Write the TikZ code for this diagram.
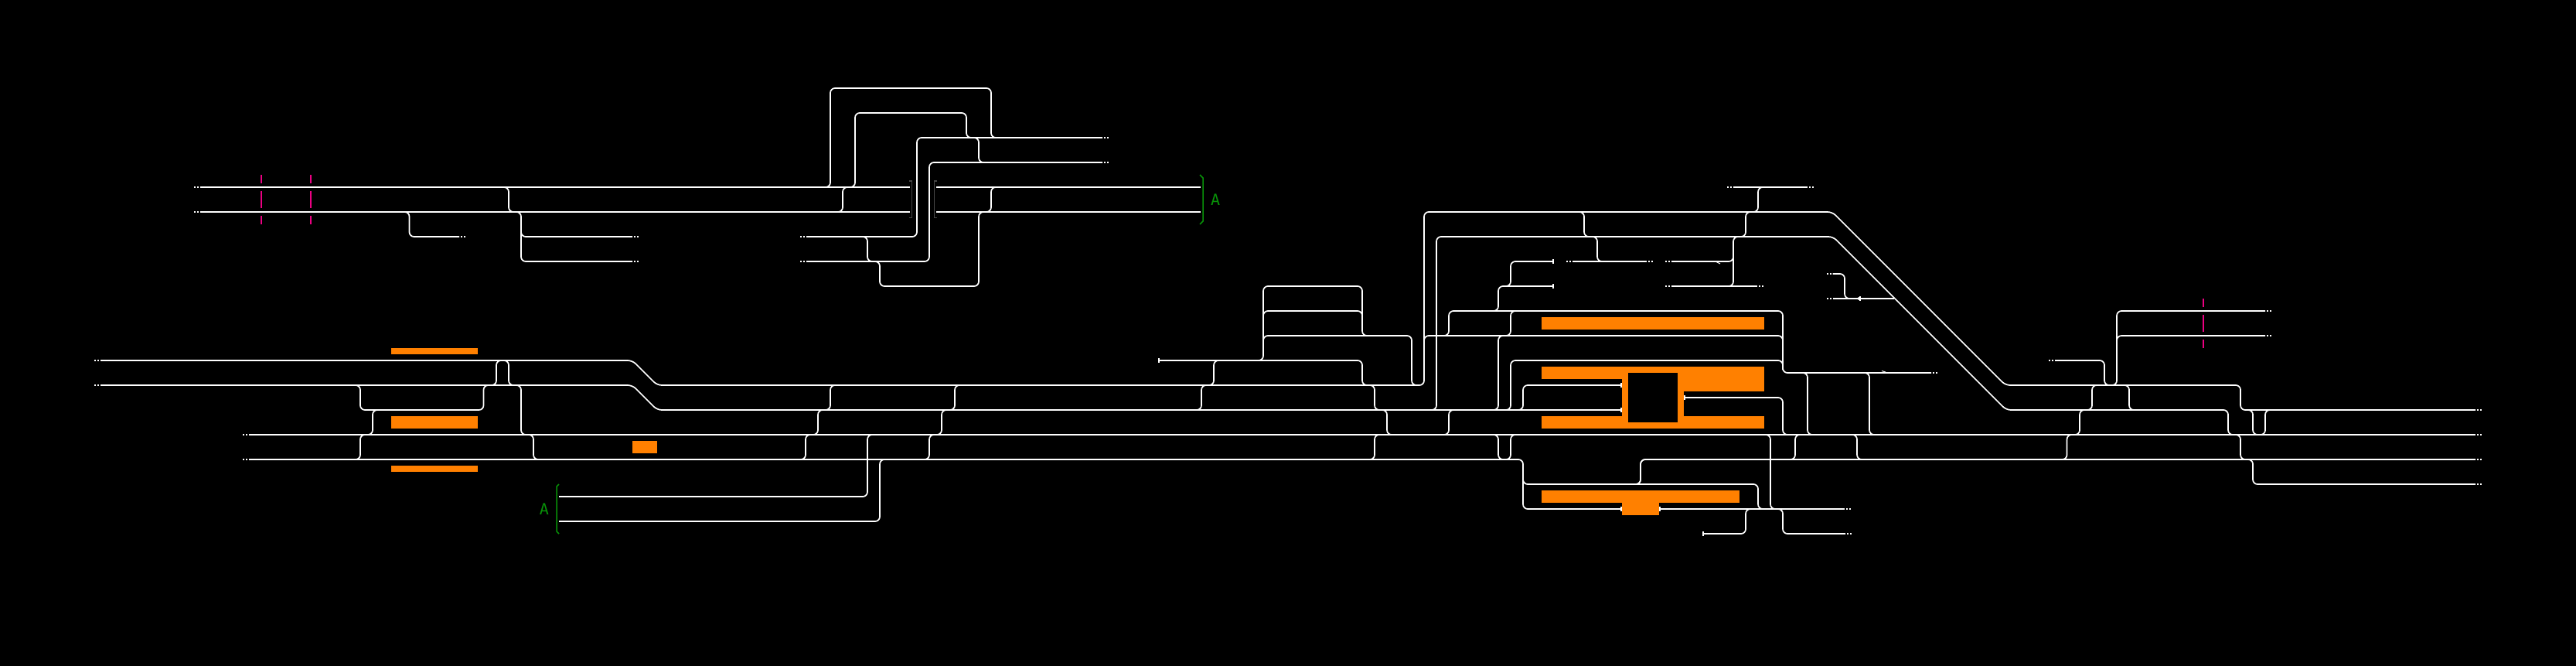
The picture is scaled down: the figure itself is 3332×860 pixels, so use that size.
\documentclass[tikz,border=0pt]{standalone}
\usepackage{fontspec}
\newfontfamily\labfont{DejaVu Sans Mono}
\definecolor{platform}{RGB}{255,128,0}
\definecolor{signalgreen}{RGB}{8,145,8}
\definecolor{marker}{RGB}{235,0,130}
\definecolor{bufgray}{RGB}{70,70,70}
\tikzset{
  track/.style={draw=white,line width=1.7pt,rounded corners=6pt},
  straight/.style={draw=white,line width=1.9pt},
  plat/.style={fill=platform,draw=none},
  barline/.style={draw=white,line width=1.8pt},
  dotbox/.style={fill=white,draw=none},
  markline/.style={draw=marker,line width=1.8pt},
  bufstop/.style={draw=bufgray,line width=1.5pt},
  grn/.style={draw=signalgreen,line width=1.5pt},
  lab/.style={text=signalgreen,inner sep=0pt,font=\labfont\fontsize{20}{20}\selectfont},
}
% switch: vertical at x, from y1 to y2, with short horizontal stubs (sign = side)
\newcommand\swx[5]{\draw[track] ({#1+(#3)*8},#2) -- (#1,#2) -- (#1,#4) -- ({#1+(#5)*8},#4);}
\newcommand\hlx[3]{\draw[straight] (#1,#3) -- (#2,#3);}
\newcommand\stubL[2]{\fill[dotbox] ({#1-8},{#2-1}) rectangle ({#1-6},{#2+1}); \fill[dotbox] ({#1-4},{#2-1}) rectangle ({#1-2},{#2+1});}
\newcommand\stubR[2]{\fill[dotbox] ({#1+2},{#2-1}) rectangle ({#1+4},{#2+1}); \fill[dotbox] ({#1+6},{#2-1}) rectangle ({#1+8},{#2+1});}
\newcommand\tbarx[2]{\draw[barline] (#1,{#2-3}) -- (#1,{#2+3});}
\newcommand\markx[2]{\draw[markline] (#1,{#2-16}) -- (#1,{#2-5}) (#1,{#2+5}) -- (#1,{#2+27}) (#1,{#2+37}) -- (#1,{#2+48});}
\begin{document}
\begin{tikzpicture}[x=1pt,y=-1pt]
\useasboundingbox (0,0) rectangle (3332,860);
\fill[black] (-6,-6) rectangle (3338,866);
% platforms
\fill[plat] (506,450) rectangle (618,458);
\fill[plat] (506,538) rectangle (618,554);
\fill[plat] (506,602) rectangle (618,610);
\fill[plat] (818,570) rectangle (850,586);
\fill[plat] (1994,410) rectangle (2282,426);
\fill[plat] (1994,474) rectangle (2282,490);
\fill[plat] (2178,474) rectangle (2282,506);
\fill[plat] (1994,538) rectangle (2282,554);
\fill[plat] (2098,474) rectangle (2178,554);
\fill[black] (2106,482) rectangle (2170,546);
\fill[plat] (1994,634) rectangle (2250,650);
\fill[plat] (2098,650) rectangle (2146,666);
% main through lines
\draw[track] (130,466) -- (818,466) -- (850,498) -- (1842,498) -- (1842,274) -- (2370,274) -- (2594,498) -- (2898,498) -- (2898,530) -- (3202,530);
\draw[track] (130,498) -- (818,498) -- (850,530) -- (2097,530);
\draw[track] (1850,530) -- (1858,530) -- (1858,306) -- (2371,306) -- (2595,530) -- (2882,530) -- (2882,562) -- (2892,562);
\hlx{322}{3202}{562}
\draw[track] (322,594) -- (1970,594) -- (1970,658) -- (2097,658);
\draw[track] (2114,626) -- (2122,626) -- (2122,594) -- (3202,594);
\draw[track] (1970,615) -- (1970,626) -- (2274,626) -- (2274,658) -- (2282,658);
\hlx{2147}{2386}{658}
\stubL{130}{466} \stubL{130}{498} \stubL{322}{562} \stubL{322}{594}
\stubR{3202}{530} \stubR{3202}{562} \stubR{3202}{594}
% left group
\draw[track] (458,498) -- (466,498) -- (466,530) -- (625.5,530) -- (625.5,498) -- (633,498);
\swx{482}{530}{1}{562}{-1}
\swx{466}{562}{1}{594}{-1}
\draw[track] (635,498) -- (642,498) -- (642,466) -- (658,466) -- (658,498) -- (665,498);
\swx{674}{498}{-1}{562}{1}
\swx{690}{562}{-1}{594}{1}
% A-lines
\draw[track] (723,642) -- (1122,642) -- (1122,562) -- (1130,562);
\draw[track] (723,674) -- (1138,674) -- (1138,594) -- (1146,594);
\draw[grn] (723,626) -- (720,629) -- (720,687) -- (723,690);
\node[lab] (aleft) at (704,658) {A};
% ladder on main lines
\foreach \xx in {1074,1235,1554}{\swx{\xx}{498}{1}{530}{-1}}
\foreach \xx in {1058,1218,1874}{\swx{\xx}{530}{1}{562}{-1}}
\foreach \xx in {1042,1202}{\swx{\xx}{562}{1}{594}{-1}}
\swx{1778}{498}{-1}{530}{1}
\swx{1794}{530}{-1}{562}{1}
\swx{1778}{562}{1}{594}{-1}
% top left group
\hlx{258.6}{1177}{242} \hlx{258.6}{1177}{274}
\hlx{1211}{1553}{242} \hlx{1211}{1553}{274}
\stubL{258.6}{242} \stubL{258.6}{274}
\markx{338}{242} \markx{402}{242}
\swx{658}{242}{-1}{274}{1}
\draw[track] (521,274) -- (529.5,274) -- (529.5,306) -- (594,306);
\stubR{594}{306}
\draw[track] (666,274) -- (674,274) -- (674,338) -- (818,338);
\draw[track] (674,295) -- (674,306) -- (818,306);
\stubR{818}{306} \stubR{818}{338}
% upper loop group
\draw[track] (1066,242) -- (1074,242) -- (1074,114) -- (1282,114) -- (1282,178) -- (1290,178);
\draw[track] (1098,242) -- (1106,242) -- (1106,146) -- (1250,146) -- (1250,178) -- (1258,178);
\draw[track] (1043,306) -- (1186,306) -- (1186,178) -- (1426,178);
\draw[track] (1043,338) -- (1202,338) -- (1202,210) -- (1426,210);
\stubL{1043}{306} \stubL{1043}{338} \stubR{1426}{178} \stubR{1426}{210}
\swx{1266}{178}{-1}{210}{1}
\draw[track] (1130,338) -- (1138,338) -- (1138,370) -- (1266,370) -- (1266,274) -- (1274,274);
\swx{1090}{242}{1}{274}{-1}
\swx{1122}{306}{-1}{338}{1}
\swx{1282}{242}{1}{274}{-1}
\draw[bufstop] (1176,234) -- (1179.5,234) -- (1179.5,281.5) -- (1176,281.5);
\draw[bufstop] (1212,234) -- (1208.5,234) -- (1208.5,281.5) -- (1212,281.5);
\draw[grn] (1552,226) -- (1556,230) -- (1556,286) -- (1552,290);
\node[lab] (aright) at (1572,258.5) {A};
% yard above the middle
\hlx{1499}{1756}{466} \tbarx{1499}{466}
\draw[track] (1755,466) -- (1762,466) -- (1762,498) -- (1770,498);
\swx{1570}{466}{1}{498}{-1}
\draw[track] (1627,466) -- (1634,466) -- (1634,370) -- (1762,370) -- (1762,434) -- (1770,434);
\draw[track] (1634,445) -- (1634,434) -- (1826,434) -- (1826,498) -- (1834,498);
\draw[track] (1634,412) -- (1634,402) -- (1762,402) -- (1762,414);
% station throat
\draw[track] (1842,445) -- (1842,434) -- (2306,434) -- (2306,446);
\draw[track] (1866,434) -- (1874,434) -- (1874,402) -- (2306,402) -- (2306,482) -- (2498,482);
\stubR{2498}{482}
\draw[track] (1946,530) -- (1954,530) -- (1954,466) -- (2306,466) -- (2306,478);
\draw[track] (1930,530) -- (1938,530) -- (1938,434) -- (1946,434);
\draw[track] (1962,530) -- (1970,530) -- (1970,498) -- (2097,498);
\tbarx{2097}{498} \tbarx{2097}{530} \tbarx{2097}{658}
\swx{1954}{402}{1}{434}{-1}
\draw[track] (1930,402) -- (1938,402) -- (1938,370) -- (2009,370);
\draw[track] (1946,370) -- (1954,370) -- (1954,338) -- (2009,338);
\tbarx{2009}{338} \tbarx{2009}{370}
\hlx{2034}{2130}{338} \stubL{2034}{338} \stubR{2130}{338}
\swx{2066}{306}{-1}{338}{1}
\draw[track] (2162,338) -- (2242,338) -- (2242,325);
\hlx{2162}{2273}{370} \stubL{2162}{338} \stubL{2162}{370} \stubR{2273}{370}
\draw[track] (2234,370) -- (2242,370) -- (2242,306) -- (2250,306);
\draw[straight,line width=1pt] (2220,338.5) -- (2225,341);
\swx{2258}{274}{1}{306}{-1}
\swx{2274}{242}{1}{274}{-1}
\swx{2049}{274}{-1}{306}{1}
\hlx{2242}{2338}{242} \stubL{2242}{242} \stubR{2338}{242}
\draw[track] (2179,514) -- (2306,514) -- (2306,562) -- (2314,562);
\tbarx{2179}{514}
\swx{2338}{482}{-1}{562}{1}
\swx{2418}{482}{-1}{562}{1}
\draw[straight,line width=1pt] (2434,479.5) -- (2439,481);
\swx{2290}{562}{-1}{658}{1}
\swx{2322}{562}{1}{594}{-1}
\swx{2402}{562}{-1}{594}{1}
\tbarx{2147}{658} \stubR{2386}{658}
\swx{2122}{594}{1}{626}{-1}
\draw[track] (1930,562) -- (1938,562) -- (1938,594) -- (1954,594) -- (1954,562) -- (1962,562);
\draw[track] (2203,690) -- (2258,690) -- (2258,658) -- (2266,658);
\tbarx{2203}{690}
\draw[track] (2298,658) -- (2306,658) -- (2306,690) -- (2387,690);
\stubR{2387}{690}
% isolated branch with arrow
\draw[track] (2370.5,354) -- (2386,354) -- (2386,386) -- (2396,386);
\hlx{2370.5}{2450}{386}
\stubL{2370.5}{354} \stubL{2370.5}{386}
\fill[white] (2401,386) -- (2405.5,383.5) -- (2405.5,388.5) -- cycle;
\draw[white,line width=1.2pt] (2406,383.3) -- (2406,388.7);
% right group
\swx{2706}{498}{1}{530}{-1}
\swx{2754}{498}{-1}{530}{1}
\swx{2690}{530}{1}{562}{-1}
\swx{2673.5}{562}{1}{594}{-1}
\draw[track] (2658,466) -- (2722,466) -- (2722,498) -- (2738,498) -- (2738,402) -- (2930,402);
\draw[track] (2738,445) -- (2738,434) -- (2930,434);
\stubL{2658}{466} \stubR{2930}{402} \stubR{2930}{434}
\markx{2850}{402}
\swx{2898}{562}{-1}{594}{1}
\draw[track] (2906,594) -- (2914,594) -- (2914,626) -- (3202,626);
\stubR{3202}{626}
\draw[track] (2906,530) -- (2914,530) -- (2914,562) -- (2930,562) -- (2930,530) -- (2938,530);
\end{tikzpicture}
\end{document}
